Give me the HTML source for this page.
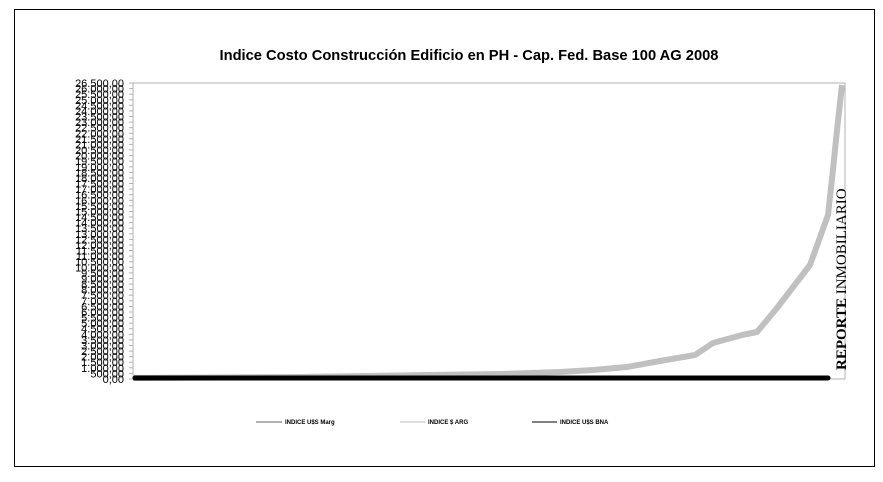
<!DOCTYPE html>
<html><head><meta charset="utf-8"><style>
body{margin:0;background:#fff;width:883px;height:477px;overflow:hidden;font-family:"Liberation Sans",Arial,sans-serif}
</style></head><body>
<svg width="883" height="477" xmlns="http://www.w3.org/2000/svg">
<rect x="14.5" y="9.5" width="860" height="457" fill="#fff" stroke="#000" stroke-width="1"/>
<text x="469" y="60" text-anchor="middle" font-family="Liberation Sans" font-weight="bold" font-size="14.7">Indice Costo Construcción Edificio en PH - Cap. Fed. Base 100 AG 2008</text>
<polyline points="133,83 845,83 845,379" fill="none" stroke="#b0b0b0" stroke-width="1"/>
<line x1="133" y1="83" x2="133" y2="379" stroke="#b0b0b0"/>
<line x1="133" y1="379" x2="845" y2="379" stroke="#b0b0b0"/>
<g font-family="Liberation Sans" font-size="11" fill="#000" text-anchor="end" id="yl"></g>
<polyline fill="none" stroke="#c0c0c0" stroke-width="6" stroke-linejoin="round" points="133,378 300,377 430,375 500,374 560,372 593,370 627,367 660,361 695,355 713,343 742,335 757,332 777,308 810,265 828,215 833,170 837,130 842,85"/>
<line x1="135" y1="378" x2="828" y2="378" stroke="#000" stroke-width="5" stroke-linecap="round"/>
<text transform="translate(846,370) rotate(-90)" font-family="Liberation Serif" font-size="15" fill="#000"><tspan font-weight="bold">REPORTE</tspan> INMOBILIARIO</text>
<g font-family="Liberation Sans" font-size="6" font-weight="bold">
<line x1="256" y1="422" x2="282" y2="422" stroke="#666"/><text x="285" y="424">INDICE U$S Marg</text>
<line x1="400" y1="422" x2="425" y2="422" stroke="#bbb"/><text x="428" y="424">INDICE $ ARG</text>
<line x1="532" y1="422" x2="557" y2="422" stroke="#000"/><text x="560" y="424">INDICE U$S BNA</text>
</g>
</svg>
<script>
var g=document.getElementById('yl'),s='';
for(var i=0;i<=53;i++){var v=i*500;var y=379-i*(296/53)+4;
var t=(v>=1000?Math.floor(v/1000)+'.'+String(v%1000).padStart(3,'0'):String(v))+',00';
s+='<text x="124" y="'+y.toFixed(1)+'">'+t+'</text><line x1="129" x2="133" y1="'+(y-4).toFixed(1)+'" y2="'+(y-4).toFixed(1)+'" stroke="#b0b0b0"/>';}
g.innerHTML=s;
</script>
</body></html>
